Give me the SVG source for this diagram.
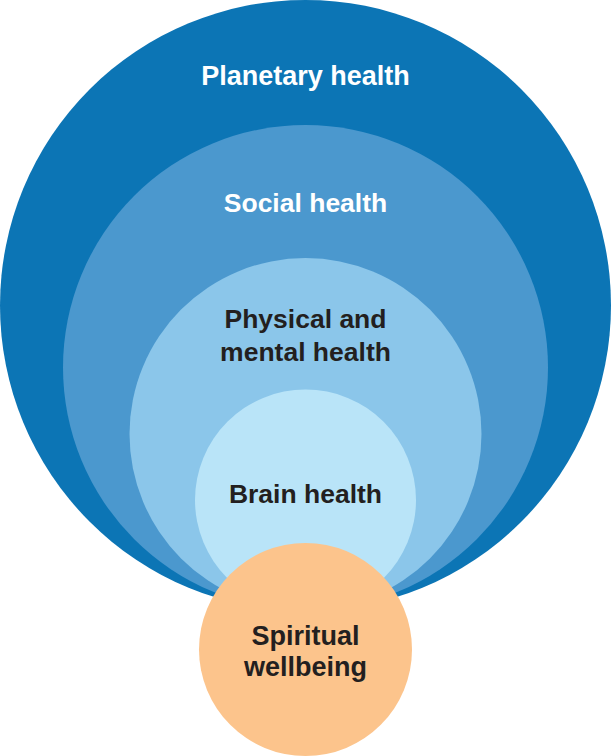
<svg xmlns="http://www.w3.org/2000/svg" width="611" height="756" viewBox="0 0 611 756">
<style>
.lbl{font-family:"Liberation Sans",Arial,sans-serif;font-weight:bold;font-size:26.5px;text-anchor:middle}
.big{font-size:27px}
.w{fill:#ffffff}
.d{fill:#231f20}
</style>
<rect width="611" height="756" fill="#ffffff"/>
<g id="planetary">
<circle cx="305.5" cy="305.5" r="305.5" fill="#0c75b5"/>
<text class="lbl big w" x="305.5" y="85">Planetary health</text>
</g>
<g id="social">
<circle cx="305.5" cy="367.5" r="242.5" fill="#4b98ce"/>
<text class="lbl w" x="305.5" y="212">Social health</text>
</g>
<g id="physical">
<circle cx="305.5" cy="434" r="176" fill="#8bc6ea"/>
<text class="lbl d" x="305.5" y="328">Physical and</text>
<text class="lbl d" x="305.5" y="361">mental health</text>
</g>
<g id="brain">
<circle cx="305.5" cy="500" r="110.5" fill="#b9e4f8"/>
<text class="lbl d" x="305.5" y="503">Brain health</text>
</g>
<g id="spiritual">
<circle cx="305.5" cy="649.5" r="106.5" fill="#fcc48c"/>
<text class="lbl big d" x="305.5" y="645">Spiritual</text>
<text class="lbl big d" x="305.5" y="676">wellbeing</text>
</g>
<g id="connectors"/>
</svg>
